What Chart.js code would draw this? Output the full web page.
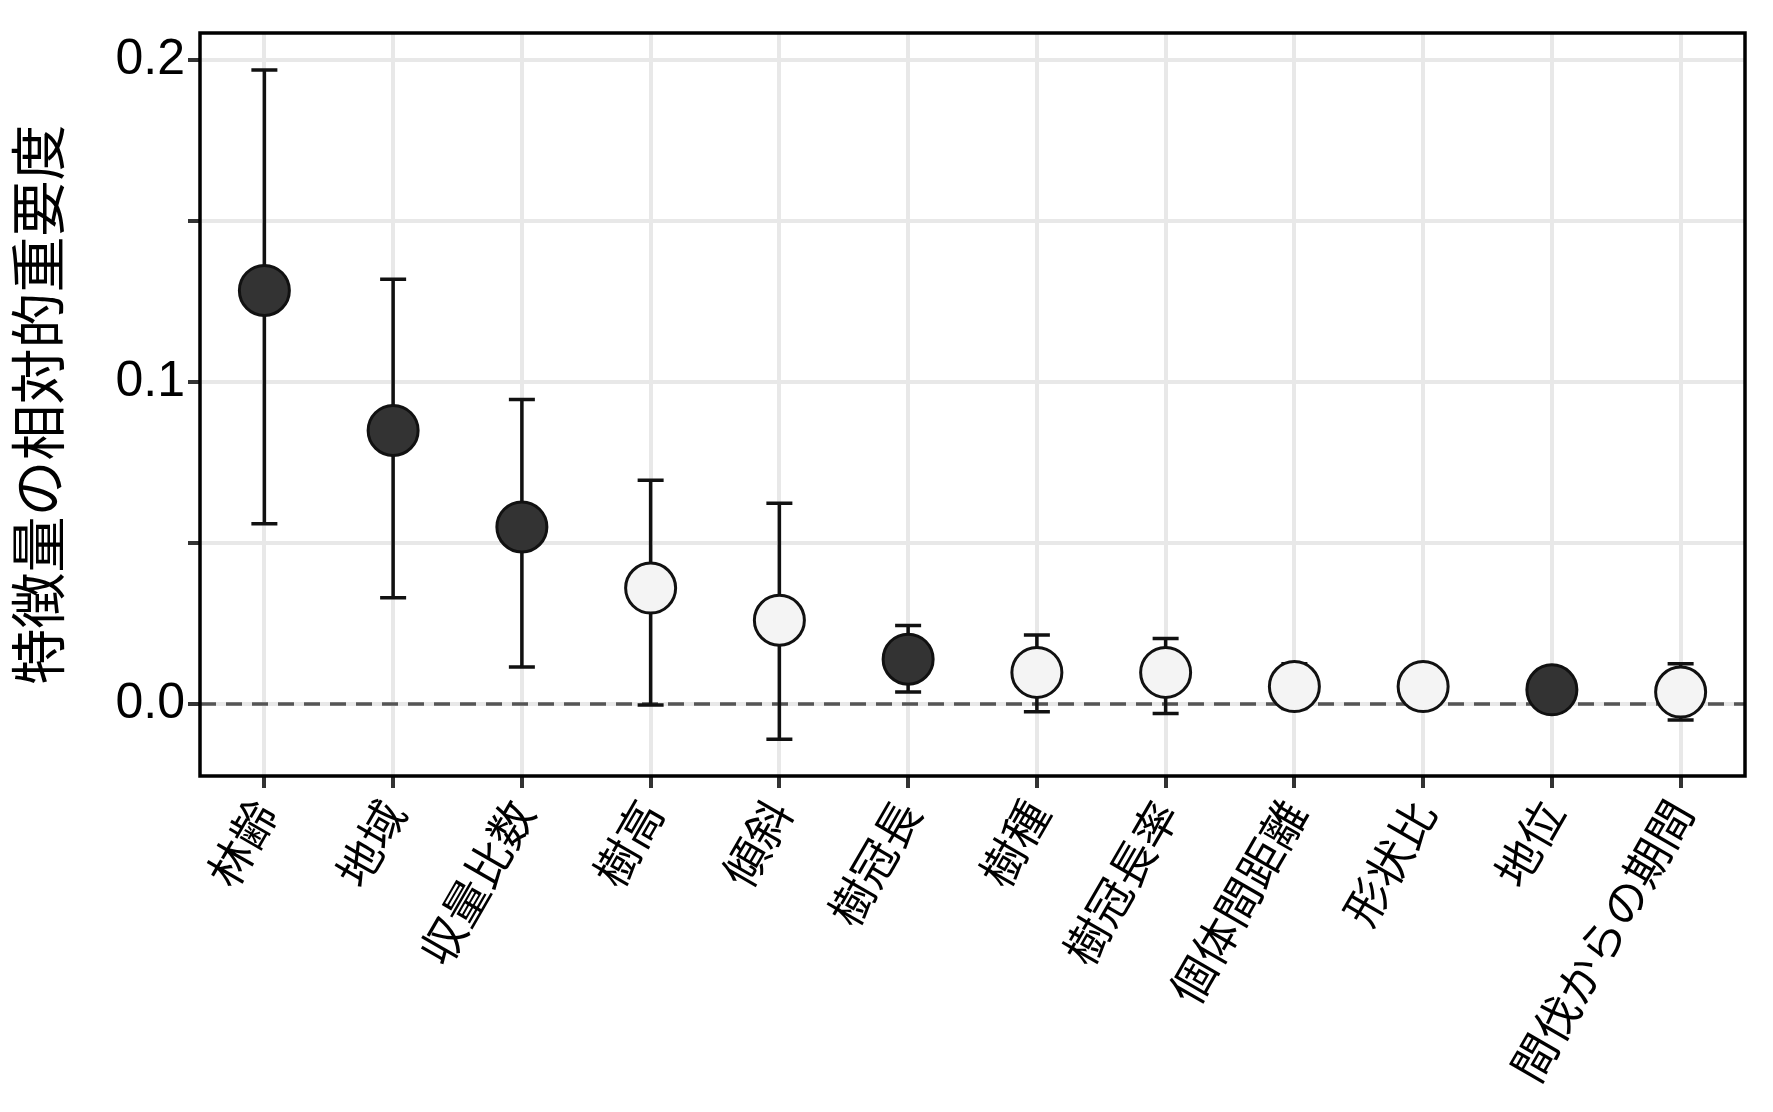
<!DOCTYPE html>
<html><head><meta charset="utf-8">
<script src="https://cdn.jsdelivr.net/npm/chart.js@4/dist/chart.umd.min.js"></script>
<style>html,body{margin:0;background:#fff}#wrap{width:1773px;height:1112px}</style>
</head><body><div id="wrap"><canvas id="c"></canvas></div>
<script>
const labels = ["林齢","地域","収量比数","樹高","傾斜","樹冠長","樹種","樹冠長率","個体間距離","形状比","地位","間伐からの期間"];
const importance = [0.1285,0.085,0.055,0.036,0.026,0.0139,0.0098,0.0098,0.0054,0.0054,0.0044,0.0037];
const upper = [0.197,0.132,0.0946,0.0695,0.0624,0.0244,0.0214,0.0203,0.0125,null,null,0.0125];
const lower = [0.056,0.033,0.0115,-0.0003,-0.011,0.0037,-0.0024,-0.003,-0.0014,null,null,-0.005];
const dark = [true,true,true,false,false,true,false,false,false,false,true,false];

const fonts = "'Noto Sans CJK JP', 'Liberation Sans', sans-serif";

const extras = {
	id: "extras",
	beforeDatasetsDraw(chart) {
		const ctx = chart.ctx, x = chart.scales.x, y = chart.scales.y;
		ctx.save();
		// dashed zero line
		ctx.strokeStyle = "#555";
		ctx.lineWidth = 3.5;
		ctx.setLineDash([16, 10]);
		ctx.beginPath();
		ctx.moveTo(chart.chartArea.left, y.getPixelForValue(0));
		ctx.lineTo(chart.chartArea.right, y.getPixelForValue(0));
		ctx.stroke();
		ctx.setLineDash([]);
		// error bars
		ctx.strokeStyle = "#111";
		ctx.lineWidth = 3.5;
		for(let i = 0; i < labels.length; i++) {
			if(upper[i] === null)
				continue;
			const px = x.getPixelForValue(i);
			const yu = y.getPixelForValue(upper[i]), yl = y.getPixelForValue(lower[i]);
			ctx.beginPath();
			ctx.moveTo(px, yu); ctx.lineTo(px, yl);
			ctx.moveTo(px - 13, yu); ctx.lineTo(px + 13, yu);
			ctx.moveTo(px - 13, yl); ctx.lineTo(px + 13, yl);
			ctx.stroke();
		}
		ctx.restore();
	},
	afterDraw(chart) {
		const ctx = chart.ctx, a = chart.chartArea;
		ctx.save();
		ctx.strokeStyle = "#000";
		ctx.lineWidth = 3.5;
		ctx.strokeRect(a.left, a.top, a.right - a.left, a.bottom - a.top);
		ctx.restore();
	}
};

new Chart(document.getElementById("c"), {
	type: "line",
	data: {
		labels: labels,
		datasets: [{
			data: importance,
			showLine: false,
			pointRadius: 25,
			pointHoverRadius: 25,
			pointBorderWidth: 3,
			pointBorderColor: "#111",
			pointBackgroundColor: dark.map(d => d ? "#333333" : "#f4f4f4")
		}]
	},
	options: {
		responsive: true,
		maintainAspectRatio: false,
		animation: false,
		layout: {padding: {top: 0, right: 3}},
		plugins: {legend: {display: false}, tooltip: {enabled: false}},
		scales: {
			x: {
				offset: true,
				afterFit(axis) { axis.height = 336; },
				grid: {color: "#e8e8e8", lineWidth: 4, offset: false, tickColor: "#333", tickLength: 12},
				border: {display: false},
				ticks: {
					color: "#000",
					font: {family: fonts, size: 45},
					minRotation: 60,
					maxRotation: 60
				}
			},
			y: {
				min: -0.0224,
				max: 0.2085,
				afterFit(axis) { axis.width = 200; },
				afterBuildTicks(axis) {
					axis.ticks = [0, 0.05, 0.1, 0.15, 0.2].map(v => ({value: v}));
				},
				grid: {color: "#e8e8e8", lineWidth: 4, tickColor: "#333", tickLength: 12},
				border: {display: false},
				ticks: {
					color: "#000",
					font: {family: "'Liberation Sans', sans-serif", size: 50},
					callback: v => (Math.abs(v * 10 - Math.round(v * 10)) < 1e-6) ? v.toFixed(1) : ""
				},
				title: {
					display: true,
					text: "特徴量の相対的重要度",
					color: "#000",
					font: {family: fonts, size: 56}
				}
			}
		}
	},
	plugins: [extras]
});
</script>
</body></html>
